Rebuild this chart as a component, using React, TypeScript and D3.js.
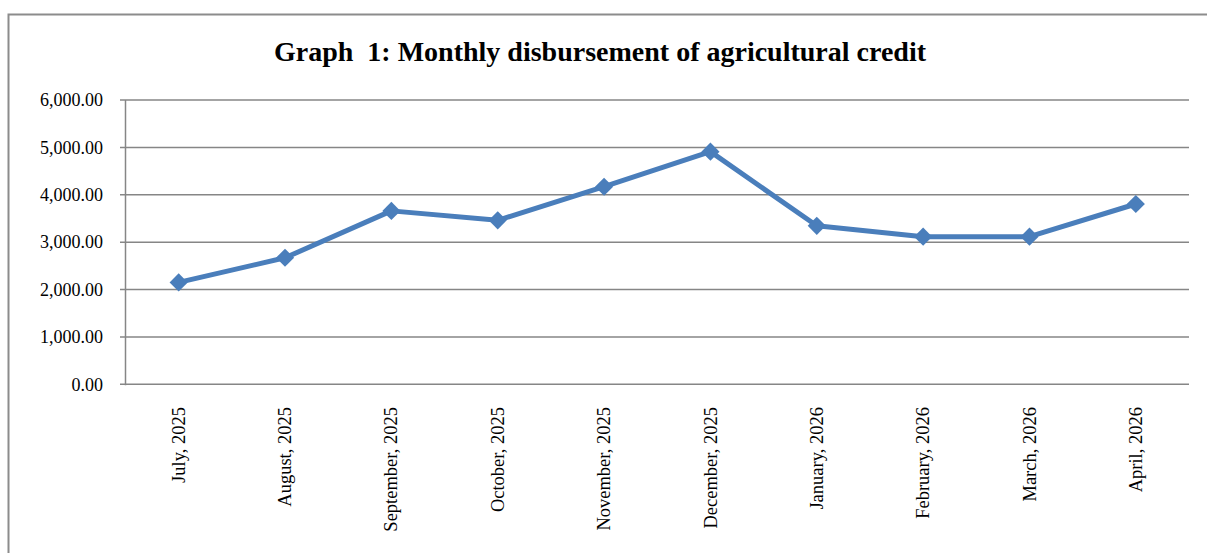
import React from "react";
import * as d3 from "d3";

const months = [
  "July, 2025",
  "August, 2025",
  "September, 2025",
  "October, 2025",
  "November, 2025",
  "December, 2025",
  "January, 2026",
  "February, 2026",
  "March, 2026",
  "April, 2026",
];
const disbursement = [2150, 2670, 3660, 3460, 4170, 4910, 3345, 3115, 3115, 3805];
const yTicks = [0, 1000, 2000, 3000, 4000, 5000, 6000];
const title = "Graph\u00a0\u00a01: Monthly disbursement of agricultural credit";

export default function App() {
  const W = 1207;
  const H = 553;
  const left = 125.5;
  const right = 1189;
  const top = 100;
  const bottom = 384.3;

  const x = d3.scaleBand<string>().domain(months).range([left, right]).padding(0);
  const y = d3.scaleLinear().domain([0, 6000]).range([bottom, top]);
  const cx = (m: string) => (x(m) as number) + x.bandwidth() / 2;

  const line = d3
    .line<number>()
    .x((_, i) => cx(months[i]))
    .y((d) => y(d));

  const marker = d3.symbol().type(d3.symbolSquare).size(165)() as string;

  const grid = "#868686";
  const blue = "#4A7EBB";
  const font = "'Liberation Serif', 'Times New Roman', serif";

  return (
    <svg
      width={W}
      height={H}
      style={{ position: "absolute", left: 0, top: 0, background: "#fff", fontFamily: font }}
    >
      <rect x={8.5} y={14.5} width={1210} height={560} fill="#fff" stroke="#8c8c8c" strokeWidth={2} />
      <text x={600} y={61} textAnchor="middle" fontSize={28} fontWeight="bold" fill="#000">
        {title}
      </text>
      {yTicks.map((t) => (
        <g key={t}>
          <line x1={120} x2={right} y1={y(t)} y2={y(t)} stroke={grid} strokeWidth={1.5} />
          <text x={103} y={y(t)} dy="0.35em" textAnchor="end" fontSize={18} fill="#000">
            {d3.format(",.2f")(t)}
          </text>
        </g>
      ))}
      <line x1={left} x2={left} y1={top} y2={bottom + 1} stroke={grid} strokeWidth={1.5} />
      {months.map((m) => (
        <text
          key={m}
          transform={`translate(${cx(m)},407) rotate(-90)`}
          textAnchor="end"
          dy="0.33em"
          fontSize={18.5}
          fill="#000"
        >
          {m}
        </text>
      ))}
      <path d={line(disbursement) as string} fill="none" stroke={blue} strokeWidth={5} strokeLinejoin="round" />
      {disbursement.map((v, i) => (
        <path
          key={i}
          d={marker}
          transform={`translate(${cx(months[i])},${y(v)}) rotate(45)`}
          fill={blue}
        />
      ))}
    </svg>
  );
}
